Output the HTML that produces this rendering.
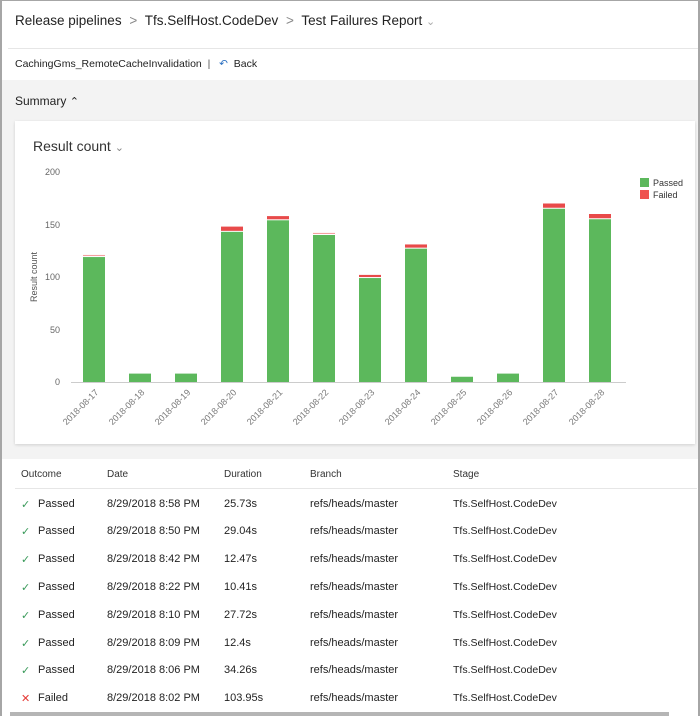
<!DOCTYPE html>
<html><head><meta charset="utf-8"><style>
*{margin:0;padding:0;box-sizing:border-box}
body{width:700px;height:716px;overflow:hidden;background:#fff;font-family:"Segoe UI","Liberation Sans",sans-serif;color:#222;position:relative}
.frame{position:absolute;left:0;top:0;width:700px;height:716px;border-left:2px solid #a6a6a6;border-top:1px solid #a6a6a6;border-right:2px solid #a6a6a6}
.t{position:absolute;white-space:nowrap}
.gray{position:absolute;left:2px;top:80px;width:696px;height:379px;background:#f3f3f3}
.card{position:absolute;left:15px;top:121px;width:680px;height:323px;background:#fff;box-shadow:0 1px 3px rgba(0,0,0,.15)}
.row{font-size:11px;color:#222}
</style></head><body>
<div class="t" style="left:15px;top:13px;font-size:13.5px;color:#222">Release pipelines <span style="color:#888;margin:0 4px">&gt;</span> Tfs.SelfHost.CodeDev <span style="color:#888;margin:0 4px">&gt;</span> Test Failures Report <span style="color:#aaa;font-size:11px">&#8964;</span></div>
<div style="position:absolute;left:8px;top:48px;width:690px;height:1px;background:#e6e6e6"></div>
<div class="t" style="left:15px;top:58px;font-size:10.5px">CachingGms_RemoteCacheInvalidation&nbsp;&nbsp;<span style="color:#555">|</span>&nbsp;&nbsp;&nbsp;<span style="color:#2a6fc0">&#8630;</span>&nbsp; Back</div>
<div class="gray"></div>
<div class="t" style="left:15px;top:94px;font-size:12px">Summary <span style="font-size:11px">&#8963;</span></div>
<div class="card"></div>
<div class="t" style="left:33px;top:138px;font-size:14px;color:#333">Result count <span style="color:#888;font-size:11px">&#8964;</span></div>
<svg style="position:absolute;left:0;top:0" width="700" height="460" font-family="Liberation Sans, sans-serif">
<g font-size="9" fill="#666" text-anchor="end">
<text x="60" y="175">200</text><text x="60" y="228">150</text><text x="60" y="280">100</text><text x="60" y="333">50</text><text x="60" y="385">0</text>
</g>
<text transform="translate(37,277) rotate(-90)" font-size="9" fill="#555" text-anchor="middle">Result count</text>
<line x1="71" y1="382.5" x2="626" y2="382.5" stroke="#ccc"/>
<g id="bars"></g>
<rect x="640" y="178" width="9" height="9" fill="#5cb85c"/><text x="653" y="186" font-size="9" fill="#333">Passed</text>
<rect x="640" y="190" width="9" height="9" fill="#ef5350"/><text x="653" y="198" font-size="9" fill="#333">Failed</text>
<g font-size="9" fill="#777" id="labels"></g>
</svg>
<script>
var d=[[119,121],[8,8],[8,8],[143,148],[154,158],[140,142],[99,102],[127,131],[5,5],[8,8],[165,170],[155,160]];
var names=["17","18","19","20","21","22","23","24","25","26","27","28"];
var b="",l="";
d.forEach(function(v,i){var cx=94+i*46,x=cx-11,y0=382,pt=y0-v[0]*1.05;
b+='<rect x="'+x+'" y="'+pt+'" width="22" height="'+(y0-pt)+'" fill="#5cb85c"/>';
if(v[1]>v[0]){var ft=y0-v[1]*1.05;b+='<rect x="'+x+'" y="'+ft+'" width="22" height="'+(pt-ft-1)+'" fill="'+(v[1]-v[0]>2?"#e84a4a":"#f5a0a0")+'"/>';}
l+='<text transform="translate('+(cx+5)+',393) rotate(-45)" text-anchor="end">2018-08-'+names[i]+'</text>';});
document.getElementById("bars").innerHTML=b;document.getElementById("labels").innerHTML=l;
</script>
<div class="t" style="left:21px;top:469px;font-size:10px;color:#333">Outcome</div>
<div class="t" style="left:107px;top:469px;font-size:10px;color:#333">Date</div>
<div class="t" style="left:224px;top:469px;font-size:10px;color:#333">Duration</div>
<div class="t" style="left:310px;top:469px;font-size:10px;color:#333">Branch</div>
<div class="t" style="left:453px;top:469px;font-size:10px;color:#333">Stage</div>
<div style="position:absolute;left:15px;top:488px;width:682px;height:1px;background:#e6e6e6"></div>
<div id="rows"></div>
<script>
var r=[["8:58","25.73s"],["8:50","29.04s"],["8:42","12.47s"],["8:22","10.41s"],["8:10","27.72s"],["8:09","12.4s"],["8:06","34.26s"],["8:02","103.95s"]],h="";
r.forEach(function(v,i){var y=497.5+i*27.8,f=i==7;
h+='<div class="t row" style="left:21px;top:'+y+'px;color:'+(f?'#e53935':'#3a9a5a')+'">'+(f?'&#10005;':'&#10003;')+'</div>'+
'<div class="t row" style="left:38px;top:'+y+'px">'+(f?'Failed':'Passed')+'</div>'+
'<div class="t row" style="left:107px;top:'+y+'px">8/29/2018 '+v[0]+' PM</div>'+
'<div class="t row" style="left:224px;top:'+y+'px">'+v[1]+'</div>'+
'<div class="t row" style="left:310px;top:'+y+'px">refs/heads/master</div>'+
'<div class="t row" style="left:453px;top:'+y+'px;font-size:10.5px">Tfs.SelfHost.CodeDev</div>';});
document.getElementById("rows").innerHTML=h;
</script>
<div style="position:absolute;left:10px;top:712px;width:659px;height:4px;background:#b5b5b5"></div>
<div class="frame"></div>
</body></html>
